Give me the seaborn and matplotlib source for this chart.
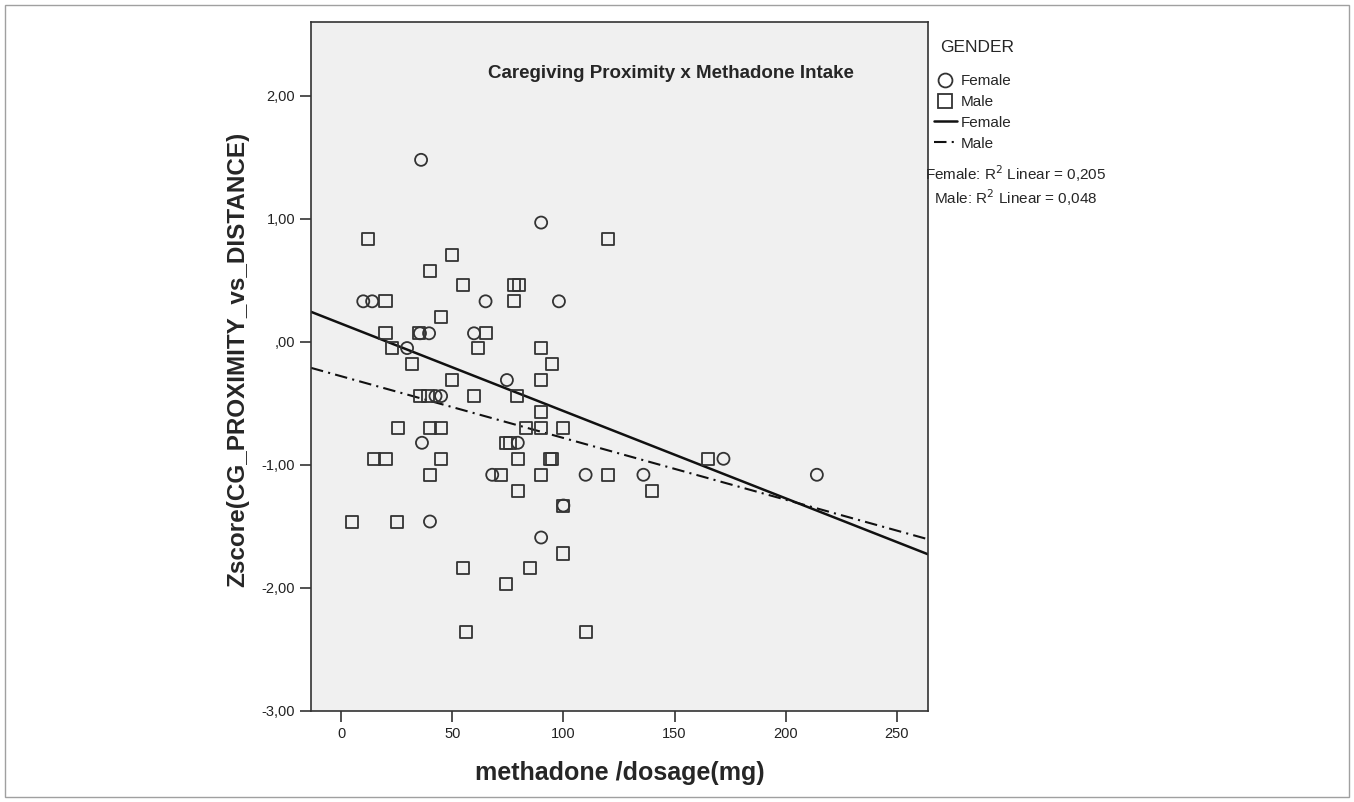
import matplotlib
matplotlib.use("Agg")
import matplotlib.pyplot as plt
from matplotlib.lines import Line2D
from matplotlib.patches import Rectangle
from matplotlib.ticker import FuncFormatter
import pandas as pd
import seaborn as sns

# data
female_dose = [36, 90, 10, 14, 65, 98, 35.5, 39.6, 59.8, 29.7, 74.6, 42.5, 45,
               36.4, 79.5, 68, 110, 136, 172, 214, 100, 40, 90]
female_z = [1.48, 0.97, 0.33, 0.33, 0.33, 0.33, 0.07, 0.07, 0.07, -0.05, -0.31, -0.44, -0.44,
            -0.82, -0.82, -1.08, -1.08, -1.08, -0.95, -1.08, -1.33, -1.46, -1.59]

male_dose = [12, 120, 50, 40, 55, 78, 80, 20, 78, 45, 20, 35, 65, 23, 61.5, 90, 32, 95,
             50, 90, 35.5, 39, 60, 79, 90, 25.5, 40, 45, 83, 90, 100, 74, 76, 15, 20, 45,
             79.5, 94, 95, 165, 40, 72, 90, 120, 79.5, 140, 100, 5, 25, 100, 55, 85, 74,
             56, 110]
male_z = [0.84, 0.84, 0.71, 0.58, 0.46, 0.46, 0.46, 0.33, 0.33, 0.20, 0.07, 0.07, 0.07,
          -0.05, -0.05, -0.05, -0.18, -0.18, -0.31, -0.31, -0.44, -0.44, -0.44, -0.44,
          -0.57, -0.70, -0.70, -0.70, -0.70, -0.70, -0.70, -0.82, -0.82, -0.95, -0.95,
          -0.95, -0.95, -0.95, -0.95, -0.95, -1.08, -1.08, -1.08, -1.08, -1.21, -1.21,
          -1.33, -1.46, -1.46, -1.72, -1.84, -1.84, -1.97, -2.36, -2.36]

genders = ["Female", "Male"]
r2_linear = [0.205, 0.048]
y_ticks = [-3, -2, -1, 0, 1, 2]
x_ticks = [0, 50, 100, 150, 200, 250]

df = pd.DataFrame({
    "dose": female_dose + male_dose,
    "z": female_z + male_z,
    "gender": ["Female"] * len(female_dose) + ["Male"] * len(male_dose),
})

sns.set_style("white")
plt.rcParams['font.family'] = ['Liberation Sans', 'DejaVu Sans']

markers = {"Female": "o", "Male": "s"}
line_styles = {"Female": "-", "Male": (0, (6, 2.5, 1, 2.5))}
line_widths = {"Female": 1.8, "Male": 1.5}
edge = "#333333"

fig = plt.figure(figsize=(13.54, 8.02), dpi=100)
ax = fig.add_axes([0.2297, 0.1135, 0.4557, 0.859])
ax.set_facecolor("#f0f0f0")
ax.set_xlim(-13.5, 264)
ax.set_ylim(-3, 2.6)

for g in genders:
    sub = df[df["gender"] == g]
    sns.regplot(data=sub, x="dose", y="z", ax=ax, scatter=False, ci=None, truncate=False,
                line_kws={"color": "#111111", "lw": line_widths[g], "ls": line_styles[g]})
    sns.scatterplot(data=sub, x="dose", y="z", ax=ax, marker=markers[g], s=75,
                    facecolors="none", edgecolors=edge, linewidth=1.3, zorder=3)

ax.set_xlim(-13.5, 264)
ax.set_ylim(-3, 2.6)

def comma_fmt(v, pos):
    s = f"{v:.2f}".replace(".", ",")
    if s.startswith("0,"):
        s = s[1:]
    return s

ax.set_yticks(y_ticks)
ax.yaxis.set_major_formatter(FuncFormatter(comma_fmt))
ax.set_xticks(x_ticks)
ax.tick_params(axis="both", which="major", direction="out", length=8, width=1.2,
               color="#333333", labelsize=10.5, labelcolor="#222222", left=True, bottom=True)
for sp in ax.spines.values():
    sp.set_visible(True)
    sp.set_color("#333333")
    sp.set_linewidth(1.2)

ax.set_xlabel("methadone /dosage(mg)", fontsize=18, fontweight="bold")
ax.set_ylabel("Zscore(CG_PROXIMITY_vs_DISTANCE)", fontsize=17.5, fontweight="bold")
ax.xaxis.set_label_coords(0.5, -0.072)
ax.yaxis.set_label_coords(-0.1, 0.51)

ax.text(0.583, 0.926, "Caregiving Proximity x Methadone Intake", transform=ax.transAxes,
        ha="center", va="center", fontsize=13.5, fontweight="bold")

handles = [
    Line2D([], [], ls="none", marker="o", markersize=10, mfc="none", mec=edge, mew=1.3),
    Line2D([], [], ls="none", marker="s", markersize=10, mfc="none", mec=edge, mew=1.3),
    Line2D([], [], color="#111111", lw=line_widths["Female"], ls=line_styles["Female"]),
    Line2D([], [], color="#111111", lw=line_widths["Male"], ls=line_styles["Male"]),
]
fig.text(940 / 1354, 1 - 47 / 802, "GENDER", ha="left", va="center", fontsize=12.5)
fig.legend(handles, genders + genders, loc="upper left",
           bbox_to_anchor=(934 / 1354, 1 - 74 / 802), frameon=False, fontsize=11,
           handlelength=1.5, handletextpad=0.25, labelspacing=0.45, borderaxespad=0,
           borderpad=0)

for i, g in enumerate(genders):
    fig.text(1016 / 1354, 1 - (174 + 24 * i) / 802,
             f"{g}: R$^2$ Linear = {r2_linear[i]:.3f}".replace(".", ","),
             ha="center", va="center", fontsize=11)

fig.patches.append(Rectangle((5 / 1354, 5 / 802), 1344 / 1354, 792 / 802,
                             transform=fig.transFigure, fill=False, ec="#a0a0a0", lw=1))

fig.savefig("out.png", dpi=100)
